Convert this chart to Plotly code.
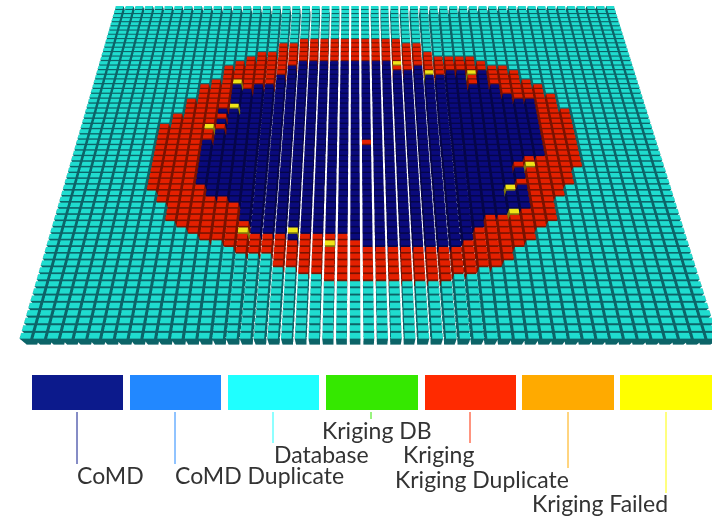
import numpy as np
import plotly.graph_objects as go

N_COLS = 51
N_ROWS = 60
CoMD, DUP, DB, KDB, KRIG, KDUP, KFAIL = range(7)
legend_names = ["CoMD", "CoMD Duplicate", "Database", "Kriging DB", "Kriging", "Kriging Duplicate", "Kriging Failed"]
legend_colors = ["#0C1A8C", "#2288FF", "#1FFFFF", "#35E800", "#FF2A00", "#FFAA00", "#FFFF00"]
top_colors = {CoMD: "#0A0A7D", DB: "#1FDCCF", KRIG: "#E42000", KFAIL: "#F0E418"}
side_colors = {CoMD: "#05054A", DB: "#0C6468", KRIG: "#7A1200", KFAIL: "#80780A"}

first_col = 7
red_top = [34,36,39,42,43,46,47,48,49,49,51,51]+[52]*10+[51,51,49,48,48,48,48,47,46,46,45,43,42,40,37]
red_bot = [22,20,17,16,15,14,14,13,12,12,12,10,10,9,9]+[8]*10+[9,9,10,10,11,13,14,16,17,21,23,26]
blue_first = 11
blue_top = [31,33,42,41,42,42,44,46]+[47]*9+[46,45,46,45,44,45,45,45,45,42,40,39,39,37]
blue_bot = [23,21,21,20,17,15,15,15,15,15,15,14,15,14]+[13]*8+[14,16,18,18,19,19,27,28]
# cells read individually: (column, row, class)
exceptions = [(13,42,KFAIL),(13,37,KFAIL),(11,33,KFAIL),(11,32,KRIG),(12,35,KRIG),(12,33,KRIG),(12,34,CoMD),(12,36,CoMD),
 (15,16,KRIG),(15,15,KFAIL),(19,15,KFAIL),(19,14,CoMD),(22,14,KRIG),(22,13,KFAIL),(25,30,KRIG),
 (28,46,KFAIL),(28,45,KRIG),(31,44,KFAIL),(35,44,KFAIL),(35,43,KRIG),(35,42,KRIG),
 (39,27,KRIG),(39,26,KFAIL),(38,26,KRIG),(38,25,CoMD),(38,24,CoMD),(38,23,KRIG),(38,22,CoMD),
 (37,22,KFAIL),(37,18,KFAIL)]

grid = np.full((N_ROWS, N_COLS), DB)
for k, (t, b) in enumerate(zip(red_top, red_bot)):
    grid[b:t, first_col + k] = KRIG
for k, (t, b) in enumerate(zip(blue_top, blue_bot)):
    grid[b:t, blue_first + k] = CoMD
for c, r, v in exceptions:
    grid[r, c] = v

gx, gy = 0.22, 0.26
xs, ys, zs, I, J, K, fc = [], [], [], [], [], [], []
def off(y):
    return 0.935 - 0.028 * y / N_ROWS
for r in range(N_ROWS):
    for c in range(N_COLS):
        v = grid[r, c]
        x0, x1 = c + gx/2, c + 1 - gx/2
        y0, y1 = r + gy, r + 1
        n = len(xs)
        for z in (-0.98, 0.0):
            xs += [x0+off(y0), x1+off(y0), x1+off(y1), x0+off(y1)]
            ys += [y0, y0, y1, y1]
            zs += [z]*4
        faces = [((4,5,6),(4,6,7),top_colors[v]),
                 ((0,1,5),(0,5,4),side_colors[v]),
                 ((1,2,6),(1,6,5),side_colors[v]),
                 ((3,0,4),(3,4,7),side_colors[v])]
        for t1, t2, col in faces:
            for t in (t1, t2):
                I.append(n+t[0]); J.append(n+t[1]); K.append(n+t[2]); fc.append(col)

fig = go.Figure(go.Mesh3d(x=xs, y=ys, z=zs, i=I, j=J, k=K, facecolor=fc, flatshading=True,
    lighting=dict(ambient=1, diffuse=0, specular=0, fresnel=0, roughness=1),
    hoverinfo="skip", showscale=False))
ax = dict(visible=False, showgrid=False, showbackground=False, zeroline=False)
fig.update_layout(width=712, height=516, margin=dict(l=0, r=0, t=0, b=0), paper_bgcolor="white",
    showlegend=False,
    scene=dict(domain=dict(x=[0,1], y=[0,1]),
        xaxis=dict(range=[-1,52], **ax), yaxis=dict(range=[0,N_ROWS], **ax), zaxis=dict(range=[-1,1], **ax),
        aspectmode="manual", aspectratio=dict(x=1.187*53/50, y=0.8687, z=0.056),
        camera=dict(eye=dict(x=0, y=-0.8479, z=1), center=dict(x=0, y=-0.3475, z=0.1342), up=dict(x=0, y=0, z=1),
                    projection=dict(type="perspective"))))

px = lambda x: x/712
py = lambda y: 1 - y/516
sw_x0 = [32,130,228,326,425,522,620]
sw_x1 = [123,221,319,418,516,614,712]
lead_x = [77,175,273,371,470,568,666]
lead_end = [464,464,443,419,443,468,493]
shapes = []
for i in range(7):
    shapes.append(dict(type="rect", xref="paper", yref="paper", x0=px(sw_x0[i]), x1=px(sw_x1[i]), y0=py(410), y1=py(375),
        fillcolor=legend_colors[i], line=dict(width=0), layer="above"))
    shapes.append(dict(type="line", xref="paper", yref="paper", x0=px(lead_x[i]), x1=px(lead_x[i]), y0=py(412), y1=py(lead_end[i]),
        line=dict(color=legend_colors[i], width=1), layer="above"))
fig.update_layout(shapes=shapes)
label_x = [75,173,272,320,401,393,530]
label_y = [475,475,454,430,454,479,503]
for n, x, y in zip(legend_names, label_x, label_y):
    fig.add_annotation(text=n, xref="paper", yref="paper", x=px(x), y=py(y), xanchor="left", yanchor="middle",
        showarrow=False, font=dict(family="Lato", size=23, color="#333333"))
fig.write_html("out.html", config=dict(displayModeBar=False),
               post_script="document.body.style.margin='0';document.documentElement.style.overflow='hidden';")
